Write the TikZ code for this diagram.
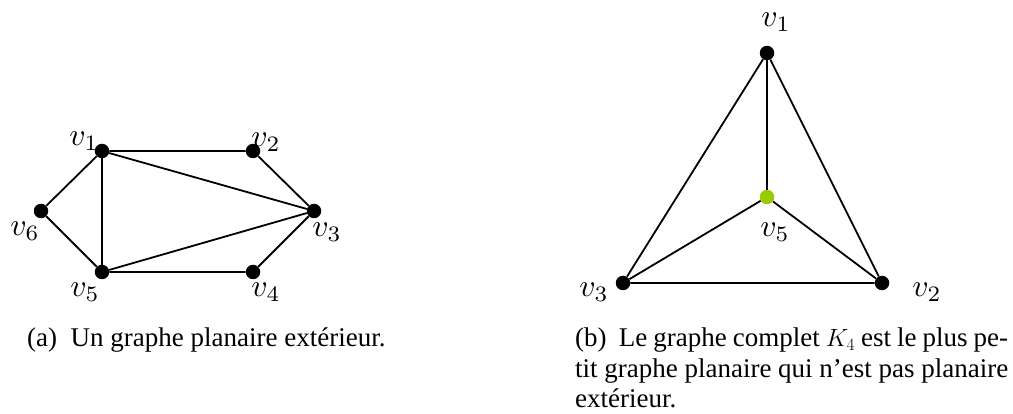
\documentclass[tikz,border=0pt]{standalone}
\usepackage{fontspec}
\setmainfont{Liberation Serif}
\definecolor{vgreen}{HTML}{99CC00}
\tikzset{
  vtx/.style={circle,fill=black,inner sep=0pt,minimum size=14.5pt},
  gvtx/.style={circle,fill=vgreen,inner sep=0pt,minimum size=14.5pt},
  edge/.style={line width=1.8pt,black},
  vlab/.style={inner sep=0pt,scale=3.15},
  capt/.style={inner sep=0pt,font=\fontsize{27}{30.5}\selectfont,anchor=base west}
}
\begin{document}
\begin{tikzpicture}[x=1pt,y=-1pt]
\useasboundingbox (0,0) rectangle (1013,414);
% left graph
\node[vtx] (a1) at (102,151) {};
\node[vtx] (a2) at (253,151) {};
\node[vtx] (a3) at (314,211) {};
\node[vtx] (a4) at (253,272) {};
\node[vtx] (a5) at (102,272) {};
\node[vtx] (a6) at (41,211) {};
\draw[edge] (a1) -- (a2) -- (a3) -- (a4) -- (a5) -- (a6) -- (a1);
\draw[edge] (a1) -- (a5);
\draw[edge] (a1) -- (a3);
\draw[edge] (a5) -- (a3);
\node[vlab] (la1) at (84,141) {$v_1$};
\node[vlab] (la2) at (266,142) {$v_2$};
\node[vlab] (la3) at (327,232) {$v_3$};
\node[vlab] (la4) at (266,292) {$v_4$};
\node[vlab] (la5) at (85,292) {$v_5$};
\node[vlab] (la6) at (25,231) {$v_6$};
% right graph
\node[vtx] (b1) at (767,53) {};
\node[gvtx] (b5) at (767,197) {};
\node[vtx] (b3) at (623,283) {};
\node[vtx] (b2) at (882,283) {};
\draw[edge] (b1) -- (b3) -- (b2) -- (b1);
\draw[edge] (b1) -- (b5);
\draw[edge] (b3) -- (b5) -- (b2);
\node[vlab] (lb1) at (776,22) {$v_1$};
\node[vlab] (lb5) at (775,232) {$v_5$};
\node[vlab] (lb3) at (594,292) {$v_3$};
\node[vlab] (lb2) at (927,292) {$v_2$};
% captions
\node[capt] (capa) at (27,347) {(a)\ \ Un graphe planaire extérieur.};
\node[capt,anchor=north west,text width=433pt,align=justify] (capb) at (575,328)
  {(b)\ \ Le graphe complet $K_4$ est le plus pe-\linebreak tit graphe planaire qui n’est pas planaire\linebreak extérieur.};
\end{tikzpicture}
\end{document}
